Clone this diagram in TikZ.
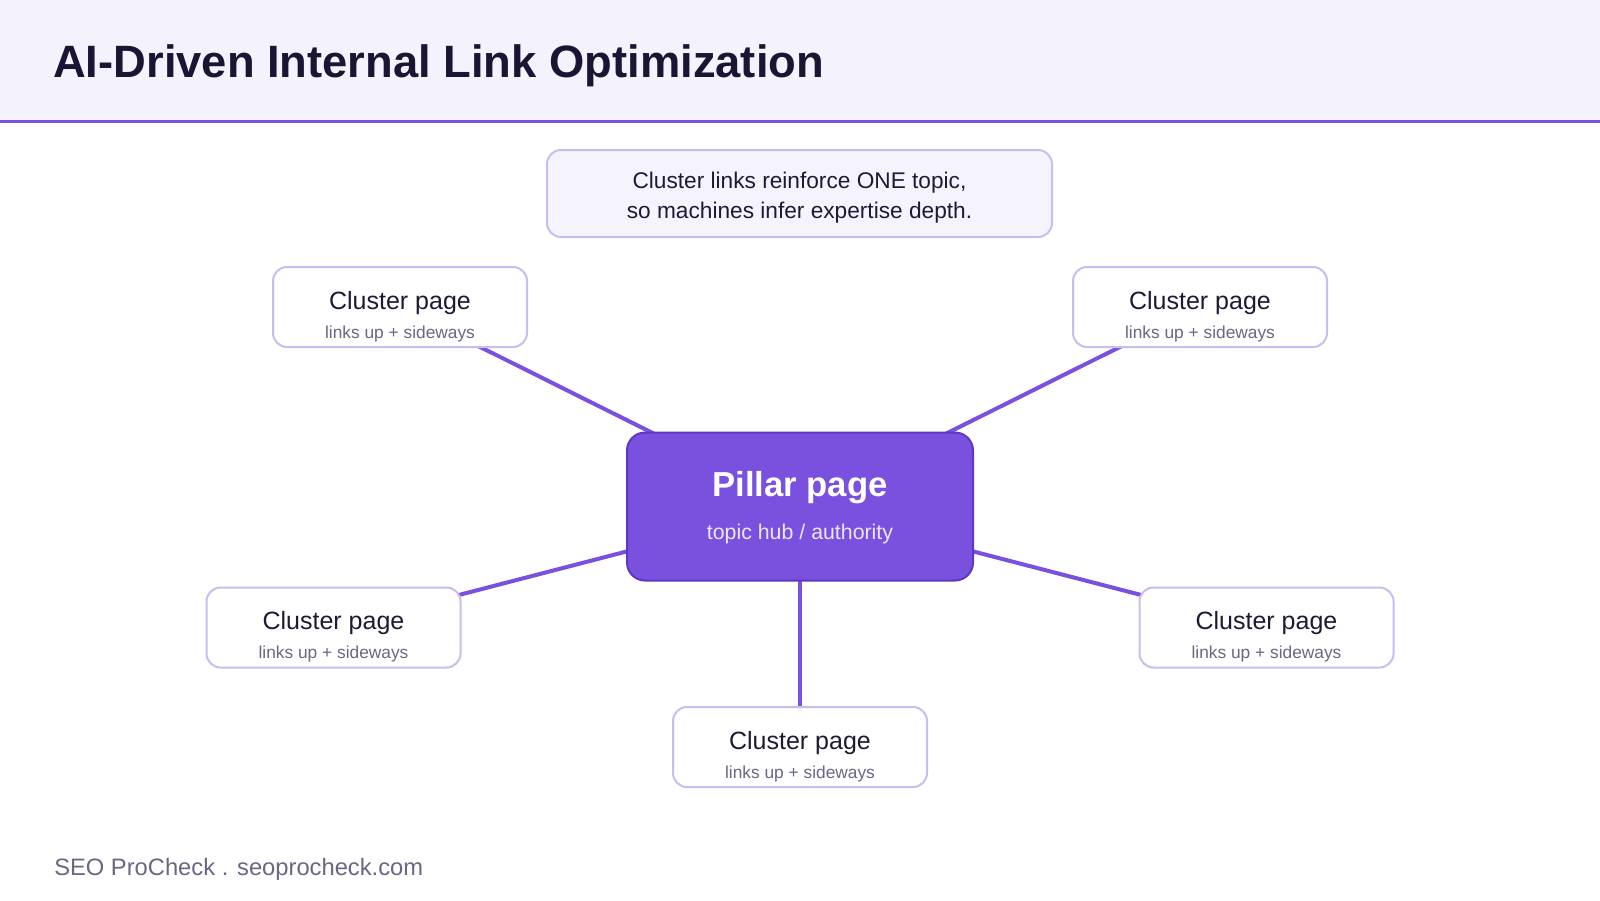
\documentclass[tikz,border=0pt]{standalone}
\usepackage{fontspec}
\setmainfont{Liberation Sans}
\usetikzlibrary{calc}
\definecolor{hdrbg}{HTML}{F4F2FD}
\definecolor{accent}{HTML}{7A50DF}
\definecolor{pillarborder}{HTML}{5B38C6}
\definecolor{softborder}{HTML}{C8BDF2}
\definecolor{notefill}{HTML}{F5F3FD}
\definecolor{titlecol}{HTML}{1C1433}
\definecolor{darktext}{HTML}{1E1A36}
\definecolor{graytext}{HTML}{6A6784}
\definecolor{pillarsub}{HTML}{EDE6FF}
\pgfdeclarelayer{bg}
\pgfsetlayers{bg,main}
\tikzset{
  clusterbox/.style={draw=softborder, line width=1.5pt, fill=white, rounded corners=10.5pt,
    minimum width=190.5pt, minimum height=60pt, inner sep=0pt},
  pillarbox/.style={draw=pillarborder, line width=1.5pt, fill=accent, rounded corners=13.5pt,
    minimum width=259.5pt, minimum height=111pt, inner sep=0pt},
  notebox/.style={draw=softborder, line width=1.5pt, fill=notefill, rounded corners=10.5pt,
    minimum width=378.75pt, minimum height=65.25pt, inner sep=0pt},
  ctitle/.style={anchor=base, inner sep=0pt, text=darktext, font=\fontsize{18.75pt}{22pt}\selectfont},
  csub/.style={anchor=base, inner sep=0pt, text=graytext, font=\fontsize{13pt}{15pt}\selectfont},
  connector/.style={draw=accent, line width=3pt},
}
\begin{document}
\begin{tikzpicture}[x=0.75pt,y=-0.75pt]
\useasboundingbox (0,0) rectangle (1600,900);
\begin{pgfonlayer}{bg}
  \fill[white] (0,0) rectangle (1600,900);
  \fill[hdrbg] (0,0) rectangle (1600,120);
  \fill[accent] (0,120) rectangle (1600,123);
\end{pgfonlayer}

\node[anchor=base west, inner sep=0pt, text=titlecol, font=\bfseries\fontsize{34pt}{39pt}\selectfont] (title) at (53,77) {AI-Driven Internal Link Optimization};

% note
\node[notebox] (note) at (799.5,193.5) {};
\node[anchor=base, inner sep=0pt, text=darktext, font=\fontsize{17pt}{20pt}\selectfont] (note1) at (799.5,188) {Cluster links reinforce ONE topic,};
\node[anchor=base, inner sep=0pt, text=darktext, font=\fontsize{17pt}{20pt}\selectfont] (note2) at (799.5,218) {so machines infer expertise depth.};

% pillar
\node[pillarbox] (pillar) at (800,506.5) {};
\node[anchor=base, inner sep=0pt, text=white, font=\bfseries\fontsize{26pt}{30pt}\selectfont] (pillart) at (800,496) {Pillar page};
\node[anchor=base, inner sep=0pt, text=pillarsub, font=\fontsize{16pt}{19pt}\selectfont] (pillars) at (800,539) {topic hub / authority};

% clusters
\foreach \n/\x/\y in {c1/400/307, c2/1200/307, c3/333.5/627.5, c4/1266.5/627.5, c5/800/747}{
  \node[clusterbox] (\n) at (\x,\y) {};
  \node[ctitle] (\n t) at ($(\n.center)+(0,2)$) {Cluster page};
  \node[csub] (\n s) at ($(\n.center)+(0,31)$) {links up + sideways};
}

\begin{pgfonlayer}{bg}
  \foreach \n in {c1,c2,c3,c4,c5}{
    \draw[connector] (pillar.center) -- (\n.center);
  }
\end{pgfonlayer}

\node[anchor=base west, inner sep=0pt, text=graytext, font=\fontsize{17.8pt}{21pt}\selectfont] (footer) at (54,875) {SEO ProCheck . seoprocheck.com};
\end{tikzpicture}
\end{document}
